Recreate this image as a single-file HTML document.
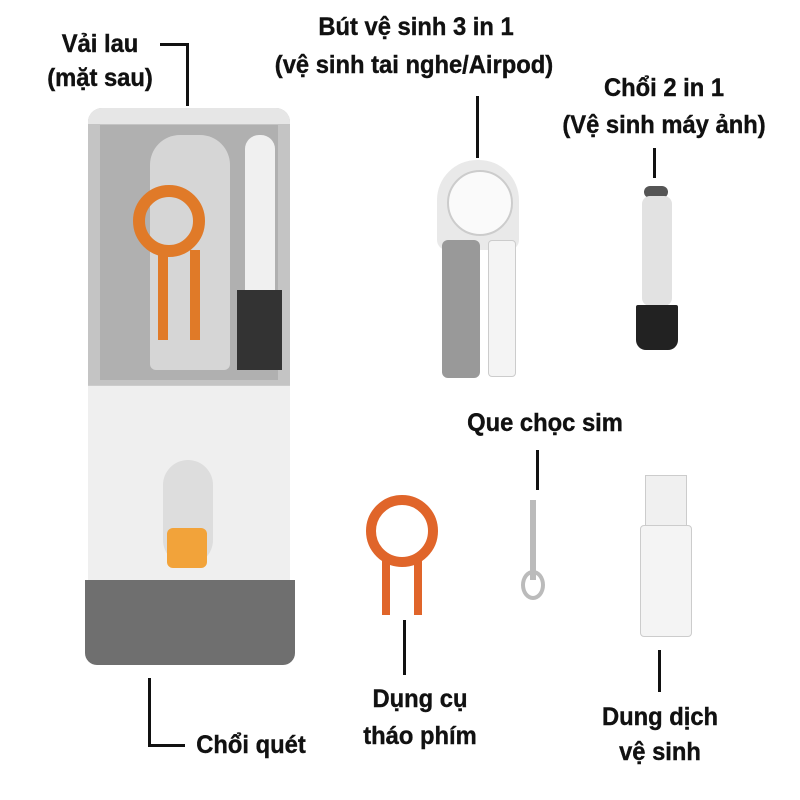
<!DOCTYPE html>
<html><head><meta charset="utf-8"><style>
body{margin:0;width:800px;height:800px;background:#fff;position:relative;overflow:hidden;font-family:"Liberation Sans",sans-serif}
.t{position:absolute;font-weight:bold;font-size:25px;color:#111;text-align:center;white-space:nowrap;transform:translateX(-50%) scaleX(0.95);line-height:1;-webkit-text-stroke:0.4px #111}
.l{position:absolute;background:#111}
.a{position:absolute}
</style></head><body>
<!-- labels -->
<div class="t" style="left:100px;top:32px">Vải lau</div>
<div class="t" style="left:100px;top:66px">(mặt sau)</div>
<div class="l" style="left:160px;top:43px;width:29px;height:3px"></div>
<div class="l" style="left:186px;top:43px;width:3px;height:63px"></div>

<div class="t" style="left:416px;top:15px">Bút vệ sinh 3 in 1</div>
<div class="t" style="left:414px;top:53px">(vệ sinh tai nghe/Airpod)</div>
<div class="l" style="left:476px;top:96px;width:3px;height:62px"></div>

<div class="t" style="left:664px;top:76px">Chổi 2 in 1</div>
<div class="t" style="left:664px;top:113px">(Vệ sinh máy ảnh)</div>
<div class="l" style="left:653px;top:148px;width:3px;height:30px"></div>

<div class="t" style="left:545px;top:411px">Que chọc sim</div>
<div class="l" style="left:536px;top:450px;width:3px;height:40px"></div>

<div class="l" style="left:403px;top:620px;width:3px;height:55px"></div>
<div class="t" style="left:420px;top:687px">Dụng cụ</div>
<div class="t" style="left:420px;top:724px">tháo phím</div>

<div class="l" style="left:658px;top:650px;width:3px;height:42px"></div>
<div class="t" style="left:660px;top:705px">Dung dịch</div>
<div class="t" style="left:660px;top:740px">vệ sinh</div>

<div class="l" style="left:148px;top:678px;width:3px;height:69px"></div>
<div class="l" style="left:148px;top:744px;width:37px;height:3px"></div>
<div class="t" style="left:251px;top:733px">Chổi quét</div>

<!-- main device -->
<div class="a" style="left:88px;top:108px;width:202px;height:278px;background:#c4c4c4;border-radius:14px 14px 0 0"></div>
<div class="a" style="left:88px;top:108px;width:202px;height:16px;background:#e6e6e6;border-radius:14px 14px 0 0"></div>
<div class="a" style="left:100px;top:125px;width:178px;height:255px;background:#b0b0b0"></div>
<div class="a" style="left:150px;top:135px;width:80px;height:235px;background:#d6d6d6;border-radius:30px 30px 6px 6px"></div>
<div class="a" style="left:245px;top:135px;width:30px;height:160px;background:#f0f0f0;border-radius:14px 14px 4px 4px"></div>
<div class="a" style="left:237px;top:290px;width:45px;height:80px;background:#333"></div>
<div class="a" style="left:133px;top:185px;width:72px;height:72px;border:12px solid #e07a28;border-radius:50%;box-sizing:border-box"></div>
<div class="a" style="left:158px;top:250px;width:10px;height:90px;background:#e07a28"></div>
<div class="a" style="left:190px;top:250px;width:10px;height:90px;background:#e07a28"></div>
<div class="a" style="left:88px;top:385px;width:202px;height:195px;background:#efefef;border-top:1px solid #ccc"></div>
<div class="a" style="left:163px;top:460px;width:50px;height:105px;background:#ddd;border-radius:25px"></div>
<div class="a" style="left:167px;top:528px;width:40px;height:40px;background:#f2a33a;border-radius:6px"></div>
<div class="a" style="left:85px;top:580px;width:210px;height:85px;background:#6f6f6f;border-radius:0 0 12px 12px"></div>

<!-- pen -->
<div class="a" style="left:437px;top:160px;width:82px;height:90px;background:#e9e9e9;border-radius:40px 40px 10px 10px"></div>
<div class="a" style="left:447px;top:170px;width:62px;height:62px;background:#fafafa;border-radius:50%;border:2px solid #ccc"></div>
<div class="a" style="left:442px;top:240px;width:38px;height:138px;background:#999;border-radius:6px"></div>
<div class="a" style="left:488px;top:240px;width:26px;height:135px;background:#f4f4f4;border:1px solid #ccc;border-radius:4px"></div>

<!-- small brush -->
<div class="a" style="left:644px;top:186px;width:24px;height:12px;background:#555;border-radius:6px"></div>
<div class="a" style="left:642px;top:196px;width:30px;height:110px;background:#e2e2e2;border-radius:8px"></div>
<div class="a" style="left:636px;top:305px;width:42px;height:45px;background:#222;border-radius:2px 2px 10px 10px"></div>

<!-- sim pin -->
<div class="a" style="left:530px;top:500px;width:6px;height:80px;background:#bbb"></div>
<div class="a" style="left:521px;top:570px;width:24px;height:30px;border:4px solid #bbb;border-radius:50%;box-sizing:border-box"></div>

<!-- orange tool -->
<div class="a" style="left:366px;top:495px;width:72px;height:72px;border:10px solid #e0652a;border-radius:50%;box-sizing:border-box"></div>
<div class="a" style="left:382px;top:560px;width:8px;height:55px;background:#e0652a"></div>
<div class="a" style="left:414px;top:560px;width:8px;height:55px;background:#e0652a"></div>

<!-- spray -->
<div class="a" style="left:645px;top:475px;width:40px;height:50px;background:#f0f0f0;border:1px solid #ccc"></div>
<div class="a" style="left:640px;top:525px;width:50px;height:110px;background:#f4f4f4;border:1px solid #ccc;border-radius:4px"></div>
</body></html>
